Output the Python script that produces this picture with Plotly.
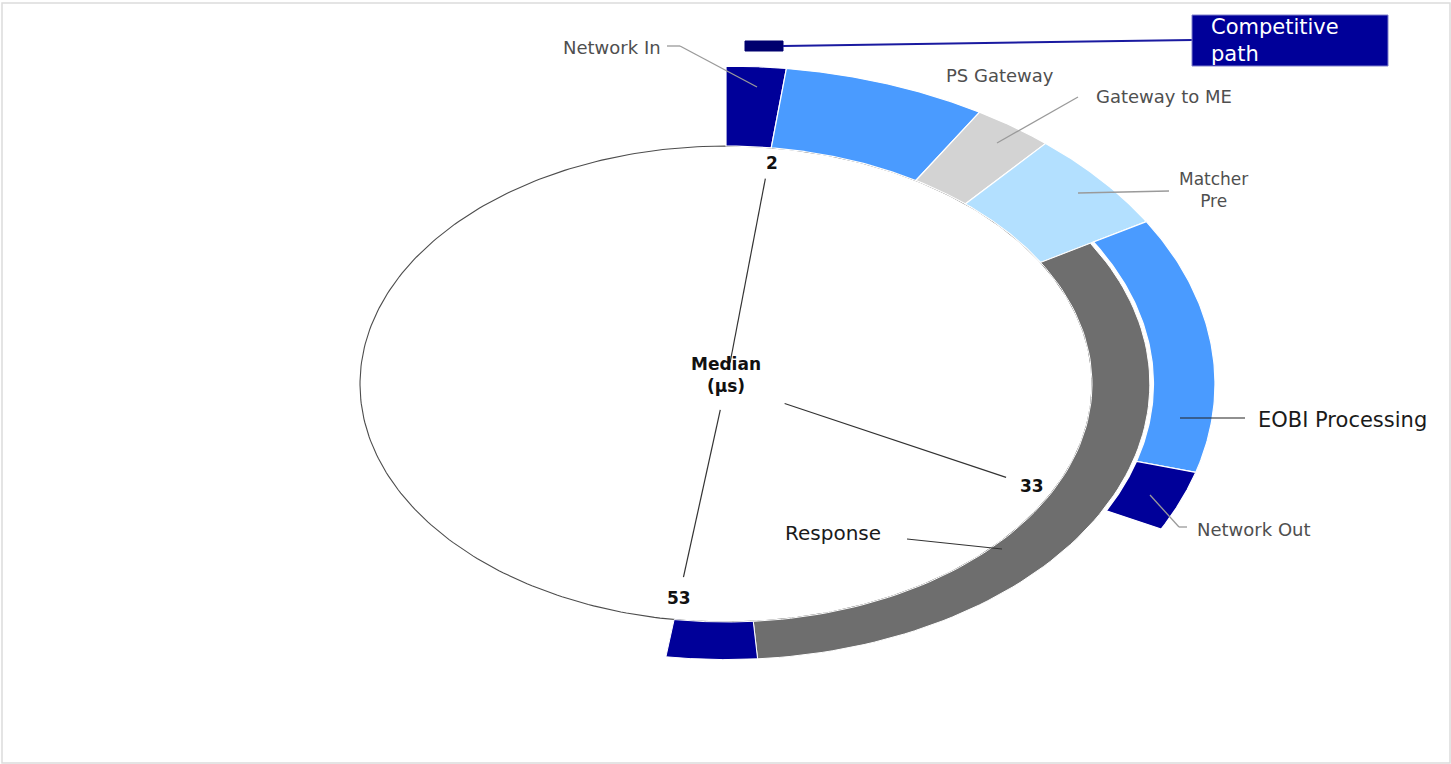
import numpy as np
import plotly.graph_objects as go

W, H = 1451, 764

# Competitive path: stage durations in microseconds
comp_stages = ["Network In", "PS Gateway", "Gateway to ME", "Matcher Pre",
               "EOBI Processing", "Network Out"]
comp_durations = [2.0, 6.8, 2.7, 5.2, 13.2, 3.1]
comp_bands = ["full", "full", "full", "full", "outer", "outer"]
comp_colors = ["#000099", "#4a9bff", "#d3d3d3", "#b3e0ff", "#4a9bff", "#000099"]

# Response path, continuing after the matcher stage
resp_stages = ["Response", "Network Out (response)"]
resp_durations = [32.8, 3.5]
resp_colors = ["#6e6e6e", "#000099"]

# Cumulative median markers (µs)
milestones = [2, 33, 53]

# ---- geometry ----
DEG_PER_US = 3.55                      # angular scale of the ring
CX, CY, RX, RY = 726, 384, 366, 238    # ellipse centre / inner radii in pixels
BANDS = {"inner": (1.0, 1.158), "outer": (1.168, 1.336), "full": (1.0, 1.336)}


def px(x):
    return x / W


def py(y):
    return 1 - y / H


def theta(v):
    return np.radians(v * DEG_PER_US)


def sector(v0, v1, r0, r1, n=80):
    t = np.linspace(theta(v0), theta(v1), n)
    xs = np.concatenate([r1 * np.sin(t), r0 * np.sin(t[::-1])])
    ys = np.concatenate([r1 * np.cos(t), r0 * np.cos(t[::-1])])
    return np.append(xs, xs[0]), np.append(ys, ys[0])


fig = go.Figure()

# inner ellipse
t = np.linspace(0, 2 * np.pi, 400)
fig.add_trace(go.Scatter(x=np.sin(t), y=np.cos(t), mode="lines", fill="toself",
                         fillcolor="white", line=dict(color="#4d4d4d", width=1.1),
                         hoverinfo="skip", showlegend=False))

# competitive path segments
start = 0.0
ends = {}
for name, d, band, col in zip(comp_stages, comp_durations, comp_bands, comp_colors):
    r0, r1 = BANDS[band]
    xs, ys = sector(start, start + d, r0, r1)
    fig.add_trace(go.Scatter(x=xs, y=ys, mode="lines", fill="toself", fillcolor=col,
                             line=dict(color="white", width=1.2), name=name,
                             hoverinfo="skip", showlegend=False))
    start += d
    ends[name] = start

# response path segments start where the matcher stage ends
start = ends["Matcher Pre"]
for name, d, col in zip(resp_stages, resp_durations, resp_colors):
    r0, r1 = BANDS["inner"]
    xs, ys = sector(start, start + d, r0, r1)
    fig.add_trace(go.Scatter(x=xs, y=ys, mode="lines", fill="toself", fillcolor=col,
                             line=dict(color="white", width=1), name=name,
                             hoverinfo="skip", showlegend=False))
    start += d

# milestone spokes and values
spoke_ranges = [(0.09, 0.87), (0.18, 0.86), (0.11, 0.82)]
label_r = [0.935, 0.94, 0.91]
label_dx = [4, 0, 0]
for v, (ra, rb), rl, dx in zip(milestones, spoke_ranges, label_r, label_dx):
    a = theta(v)
    fig.add_trace(go.Scatter(x=[ra * np.sin(a), rb * np.sin(a)],
                             y=[ra * np.cos(a), rb * np.cos(a)], mode="lines",
                             line=dict(color="#333333", width=1.2),
                             hoverinfo="skip", showlegend=False))
    fig.add_annotation(x=rl * np.sin(a), y=rl * np.cos(a), xref="x", yref="y",
                       text=f"<b>{v}</b>", showarrow=False, xshift=dx,
                       font=dict(family="DejaVu Sans", size=17, color="#111111"))

FONT = "DejaVu Sans"
GREY_TXT = "#4f4f4f"
DARK_TXT = "#1a1a1a"


def label(x, y, text, size=18, color=GREY_TXT, anchor="center", bold=False):
    fig.add_annotation(x=px(x), y=py(y), xref="paper", yref="paper",
                       text=f"<b>{text}</b>" if bold else text, showarrow=False,
                       xanchor=anchor, yanchor="middle", align=anchor,
                       font=dict(family=FONT, size=size, color=color))


def leader(points, color="#9a9a9a", width=1.3):
    for (x0, y0), (x1, y1) in zip(points[:-1], points[1:]):
        fig.add_shape(type="line", xref="paper", yref="paper",
                      x0=px(x0), y0=py(y0), x1=px(x1), y1=py(y1),
                      line=dict(color=color, width=width))


# stage labels with leader lines
label(612, 47, "Network In")
leader([(667, 46), (680, 46), (757, 87)])
label(1000, 75, "PS Gateway")
label(1164, 97, "Gateway to ME")
leader([(1078, 97), (997, 143)])
label(1213, 190, "Matcher<br>Pre", size=17)
leader([(1169, 191), (1078, 193)])
label(1256, 420, "EOBI Processing", size=21, color=DARK_TXT, anchor="left")
leader([(1180, 418), (1245, 418)], color="#222222", width=1.2)
label(1195, 529, "Network Out", anchor="left")
leader([(1150, 495), (1179, 527), (1187, 527)])
label(833, 533, "Response", size=20, color=DARK_TXT)
leader([(907, 539), (1002, 549)], color="#333333", width=1.2)

# centre caption
label(726, 375, "Median<br>(µs)", size=17, color="#111111", bold=True)

# competitive-path key
fig.add_shape(type="rect", xref="paper", yref="paper",
              x0=px(745), y0=py(51), x1=px(783), y1=py(41),
              fillcolor="#00006e", line=dict(color="#00006e", width=1))
leader([(783, 46), (1192, 40)], color="#1a1aa0", width=2)
fig.add_shape(type="rect", xref="paper", yref="paper",
              x0=px(1192), y0=py(66), x1=px(1388), y1=py(15),
              fillcolor="#000099", line=dict(color="#8080cc", width=1))
label(1209, 41, "Competitive<br>path", size=21, color="white", anchor="left")

# outer frame
fig.add_shape(type="rect", xref="paper", yref="paper",
              x0=px(2), y0=py(763), x1=px(1450), y1=py(3),
              line=dict(color="#dcdcdc", width=1.5))

fig.update_xaxes(range=[-CX / RX, (W - CX) / RX], visible=False, fixedrange=True)
fig.update_yaxes(range=[(CY - H) / RY, CY / RY], visible=False, fixedrange=True)
fig.update_layout(width=W, height=H, margin=dict(l=0, r=0, t=0, b=0),
                  paper_bgcolor="white", plot_bgcolor="white", showlegend=False)

fig.write_html("out.html")
